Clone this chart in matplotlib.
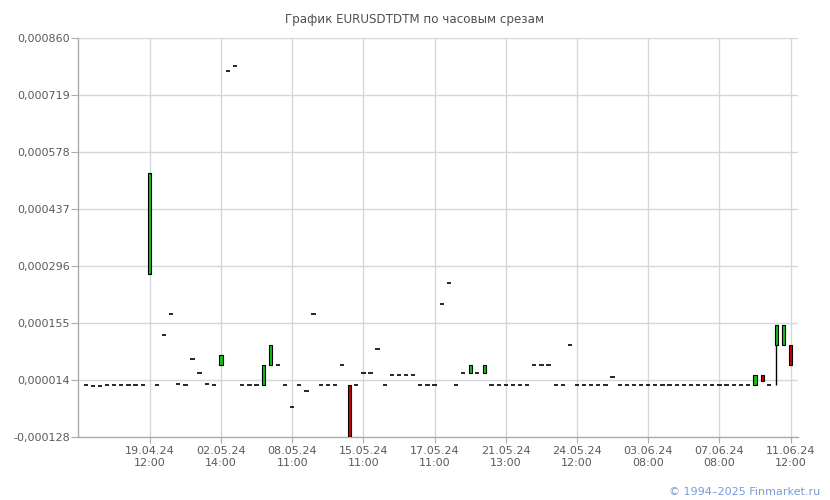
import numpy as np
import matplotlib
matplotlib.use('Agg')
import matplotlib.pyplot as plt

# hourly candles, values in 1e-6
opens = [0, -2, -2, 0, 0, 0, 0, 0, 0, 276,
         0, 125, 177, 3, 0, 65, 30, 3, 0, 49,
         779, 792, 0, 0, 0, 0, 49, 50, 0, -55,
         0, -14, 177, 0, 0, 0, 50, 0, 0, 30,
         30, 90, 0, 25, 25, 25, 25, 0, 0, 0,
         202, 252, 0, 30, 30, 30, 30, 0, 0, 0,
         0, 0, 0, 50, 50, 50, 0, 0, 100, 0,
         0, 0, 0, 0, 21, 0, 0, 0, 0, 0,
         0, 0, 0, 0, 0, 0, 0, 0, 0, 0,
         0, 0, 0, 0, 0, 25, 0, 100, 100, 100]
closes = [0, -2, -2, 0, 0, 0, 0, 0, 0, 526,
          0, 125, 177, 3, 0, 65, 30, 3, 0, 75,
          779, 792, 0, 0, 0, 50, 100, 50, 0, -55,
          0, -14, 177, 0, 0, 0, 50, -128, 0, 30,
          30, 90, 0, 25, 25, 25, 25, 0, 0, 0,
          202, 252, 0, 30, 49, 30, 49, 0, 0, 0,
          0, 0, 0, 50, 50, 50, 0, 0, 100, 0,
          0, 0, 0, 0, 21, 0, 0, 0, 0, 0,
          0, 0, 0, 0, 0, 0, 0, 0, 0, 0,
          0, 0, 0, 0, 25, 11, 0, 149, 149, 50]
# only candle 97 has a visible wick below the body
lows = {97: 0}

tick_idx = [9, 19, 29, 39, 49, 59, 69, 79, 89, 99]
tick_labels = ['19.04.24\n12:00', '02.05.24\n14:00', '08.05.24\n11:00', '15.05.24\n11:00',
               '17.05.24\n11:00', '21.05.24\n13:00', '24.05.24\n12:00', '03.06.24\n08:00',
               '07.06.24\n08:00', '11.06.24\n12:00']
y_labels = ['-0,000128', '0,000014', '0,000155', '0,000296', '0,000437',
            '0,000578', '0,000719', '0,000860']
y_min, y_max = -0.000128, 0.00086

o = np.array(opens) * 1e-6
c = np.array(closes) * 1e-6
x = np.arange(len(o))
hi = np.maximum(o, c)
lo = np.minimum(o, c)
for k, v in lows.items():
    lo[k] = v * 1e-6

fig = plt.figure(figsize=(8.3, 5), dpi=100)
ax = fig.add_axes([78.3 / 830, 1 - 436.7 / 500, 720 / 830, 398.4 / 500])

grid_c = '#d3d7db'
txt_c = '#5a5a5a'

# wicks
for i in x:
    if lo[i] < hi[i]:
        ax.vlines(i, lo[i], hi[i], color='black', lw=1, zorder=2)

flat = o == c
ax.hlines(o[flat], x[flat] - 0.3, x[flat] + 0.3, color='black', lw=1.2, zorder=3)
up = (~flat) & (c > o)
down = (~flat) & (c < o)
ax.bar(x[up], c[up] - o[up], bottom=o[up], width=0.45, color='#14c014',
       edgecolor='black', linewidth=0.8, zorder=3)
ax.bar(x[down], c[down] - o[down], bottom=o[down], width=0.45, color='#d00000',
       edgecolor='black', linewidth=0.8, zorder=3)

ax.set_xlim(-1.04, 100.08)
ax.set_ylim(y_min, y_max)
ax.set_yticks(np.linspace(y_min, y_max, 8))
ax.set_yticklabels(y_labels)
ax.set_xticks(tick_idx)
ax.set_xticklabels(tick_labels)
ax.grid(True, color=grid_c, lw=1)
ax.set_axisbelow(True)

for s in ['top', 'right']:
    ax.spines[s].set_visible(False)
for s in ['left', 'bottom']:
    ax.spines[s].set_color('#a9adb2')
    ax.spines[s].set_linewidth(1)
ax.tick_params(axis='y', length=5, color='#a9adb2', labelsize=8, labelcolor=txt_c, pad=1)
ax.tick_params(axis='x', length=4, color='#a9adb2', labelsize=8, labelcolor=txt_c, pad=3)

fig.text(0.4994, 0.962, 'График EURUSDTDTM по часовым срезам', ha='center', va='center',
         fontsize=8.6, color='#505050')
fig.text(0.988, 0.016, '© 1994–2025 Finmarket.ru', ha='right', va='center',
         fontsize=8, color='#7a9ad6')

plt.savefig('out.png', dpi=100)
